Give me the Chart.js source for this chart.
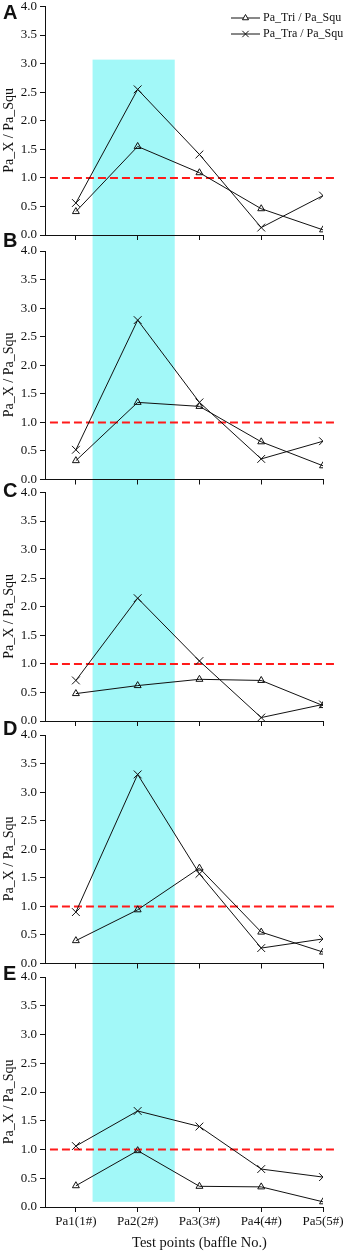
<!DOCTYPE html>
<html>
<head>
<meta charset="utf-8">
<script src="https://cdn.jsdelivr.net/npm/chart.js@4/dist/chart.umd.min.js"></script>
<style>
  html, body { margin: 0; padding: 0; background: #fff; }
  #page { position: relative; width: 346px; height: 1252px; overflow: hidden; }
  .panel { position: absolute; left: 0; width: 346px; }
  .letter {
    position: absolute; left: 3px; font: bold 20px "Liberation Sans", Arial, sans-serif;
    line-height: 20px; color: #111; z-index: 5;
  }
</style>
</head>
<body>
<div id="page"></div>
<script>
// ---- data ----
const categories = ["Pa1(1#)", "Pa2(2#)", "Pa3(3#)", "Pa4(4#)", "Pa5(5#)"];
const seriesNames = ["Pa_Tri / Pa_Squ", "Pa_Tra / Pa_Squ"];

const triA = [0.41, 1.55, 1.09, 0.46, 0.09];
const traA = [0.56, 2.55, 1.41, 0.13, 0.69];
const triB = [0.33, 1.35, 1.28, 0.66, 0.24];
const traB = [0.52, 2.79, 1.35, 0.36, 0.67];
const triC = [0.48, 0.62, 0.73, 0.71, 0.27];
const traC = [0.71, 2.15, 1.05, 0.06, 0.29];
const triD = [0.40, 0.94, 1.67, 0.55, 0.20];
const traD = [0.90, 3.31, 1.57, 0.27, 0.43];
const triE = [0.37, 0.98, 0.36, 0.35, 0.09];
const traE = [1.06, 1.67, 1.40, 0.66, 0.52];

const yMin = 0;
const yMax = 4;
const yStep = 0.5;
const refLevel = 1.0;            // red dashed line
const bandFrom = 1.27;           // cyan band, in x units
const bandTo = 2.6;
const bandTop = 3.07;            // in panel A y units
const bandBottom = 0.09;         // in panel E y units

const yTitle = "Pa_X / Pa_Squ";
const xTitle = "Test points (baffle No.)";

// ---- layout of the stacked panels ----
const panels = [
  { letter: "A", tri: triA, tra: traA, top: 0,   height: 243, padTop: 6, xHeight: 8,  letterTop: 2 },
  { letter: "B", tri: triB, tra: traB, top: 243, height: 243, padTop: 8, xHeight: 6,  letterTop: 230 },
  { letter: "C", tri: triC, tra: traC, top: 486, height: 242, padTop: 6, xHeight: 7,  letterTop: 480 },
  { letter: "D", tri: triD, tra: traD, top: 728, height: 242, padTop: 7, xHeight: 6,  letterTop: 718 },
  { letter: "E", tri: triE, tra: traE, top: 970, height: 282, padTop: 7, xHeight: 45, letterTop: 963 },
];

const serif = '"Liberation Serif", "Times New Roman", serif';
const inkColor = "#111";
const bandColor = "#a2f8f8";

const toPoints = (arr) => arr.map((v, i) => ({ x: i + 1, y: v }));

const bandPlugin = {
  id: "band",
  beforeDraw(chart, args, opts) {
    const { ctx, scales } = chart;
    const x0 = scales.x.getPixelForValue(bandFrom);
    const x1 = scales.x.getPixelForValue(bandTo);
    const top = opts.top != null ? scales.y.getPixelForValue(opts.top) : 0;
    const bottom = opts.bottom != null ? scales.y.getPixelForValue(opts.bottom) : chart.height;
    ctx.save();
    ctx.fillStyle = bandColor;
    ctx.fillRect(x0, top, x1 - x0, bottom - top);
    ctx.restore();
  },
};

const titlesPlugin = {
  id: "titles",
  afterDraw(chart, args, opts) {
    const { ctx, scales } = chart;
    ctx.save();
    ctx.fillStyle = inkColor;
    ctx.textAlign = "center";
    ctx.textBaseline = "middle";
    ctx.font = "14px " + serif;
    ctx.translate(9, scales.y.getPixelForValue(1.83));
    ctx.rotate(-Math.PI / 2);
    ctx.fillText(yTitle, 0, 0);
    ctx.restore();

    if (opts.showX) {
      ctx.save();
      ctx.fillStyle = inkColor;
      ctx.textAlign = "center";
      ctx.textBaseline = "middle";
      ctx.font = "14.5px " + serif;
      ctx.fillText(xTitle, scales.x.getPixelForValue(3), chart.height - 9);
      ctx.restore();
    }

    if (opts.legend) {
      const styles = ["triangle", "crossRot"];
      const radii = [3.5, 4.5];
      ctx.save();
      ctx.font = "12px " + serif;
      ctx.textBaseline = "middle";
      seriesNames.forEach((name, i) => {
        const yy = 18 + i * 16;
        ctx.strokeStyle = inkColor;
        ctx.lineWidth = 1;
        ctx.beginPath();
        ctx.moveTo(231, yy);
        ctx.lineTo(260, yy);
        ctx.stroke();
        ctx.fillStyle = "#fff";
        Chart.helpers.drawPoint(ctx, { pointStyle: styles[i], radius: radii[i], borderWidth: 1, rotation: 0 }, 245.5, yy);
        ctx.fillStyle = inkColor;
        ctx.fillText(name, 263, yy);
      });
      ctx.restore();
    }
  },
};

const page = document.getElementById("page");

panels.forEach((p, idx) => {
  const isLast = idx === panels.length - 1;

  const box = document.createElement("div");
  box.className = "panel";
  box.style.top = p.top + "px";
  box.style.height = p.height + "px";
  const canvas = document.createElement("canvas");
  box.appendChild(canvas);
  page.appendChild(box);

  const letter = document.createElement("div");
  letter.className = "letter";
  letter.style.top = p.letterTop + "px";
  letter.textContent = p.letter;
  page.appendChild(letter);

  new Chart(canvas.getContext("2d"), {
    type: "line",
    data: {
      datasets: [
        {
          label: seriesNames[0],
          data: toPoints(p.tri),
          borderColor: inkColor,
          borderWidth: 1,
          pointStyle: "triangle",
          pointRadius: 4,
          pointBorderWidth: 1,
          pointBorderColor: inkColor,
          pointBackgroundColor: "rgba(0,0,0,0)",
          order: 1,
        },
        {
          label: seriesNames[1],
          data: toPoints(p.tra),
          borderColor: inkColor,
          borderWidth: 1,
          pointStyle: "crossRot",
          pointRadius: 5.5,
          pointBorderWidth: 1,
          pointBorderColor: inkColor,
          order: 1,
        },
        {
          label: "ref",
          data: [{ x: 0.58, y: refLevel }, { x: 5.19, y: refLevel }],
          borderColor: "#ff1a1a",
          borderWidth: 2,
          borderDash: [8, 4],
          pointRadius: 0,
          clip: false,
          order: 3,
        },
      ],
    },
    options: {
      responsive: true,
      maintainAspectRatio: false,
      animation: false,
      events: [],
      layout: { padding: { top: p.padTop, right: 23, left: 0, bottom: 0 } },
      scales: {
        x: {
          type: "linear",
          min: 0.5,
          max: 5,
          afterBuildTicks: (scale) => {
            scale.ticks = categories.map((c, i) => ({ value: i + 1 }));
          },
          afterFit: (scale) => {
            scale.height = p.xHeight;
            scale.paddingLeft = 0;
            scale.paddingRight = 0;
          },
          grid: { drawOnChartArea: false, drawTicks: true, tickLength: 5, color: inkColor },
          border: { display: true, color: inkColor, width: 1 },
          ticks: {
            display: isLast,
            padding: 2,
            color: inkColor,
            font: { family: serif, size: 13 },
            maxRotation: 0,
            autoSkip: false,
            callback: (v) => categories[Math.round(v) - 1],
          },
        },
        y: {
          min: yMin,
          max: yMax,
          afterFit: (scale) => {
            scale.width = 45;
            scale.paddingTop = 0;
            scale.paddingBottom = 0;
          },
          grid: { drawOnChartArea: false, drawTicks: true, tickLength: 5, color: inkColor },
          border: { display: true, color: inkColor, width: 1 },
          ticks: {
            stepSize: yStep,
            padding: 3,
            color: inkColor,
            font: { family: serif, size: 13 },
            callback: (v) => v.toFixed(1),
          },
        },
      },
      plugins: {
        legend: { display: false },
        tooltip: { enabled: false },
        band: {
          top: idx === 0 ? bandTop : null,
          bottom: isLast ? bandBottom : null,
        },
        titles: { showX: isLast, legend: idx === 0 },
      },
    },
    plugins: [bandPlugin, titlesPlugin],
  });
});
</script>
</body>
</html>
